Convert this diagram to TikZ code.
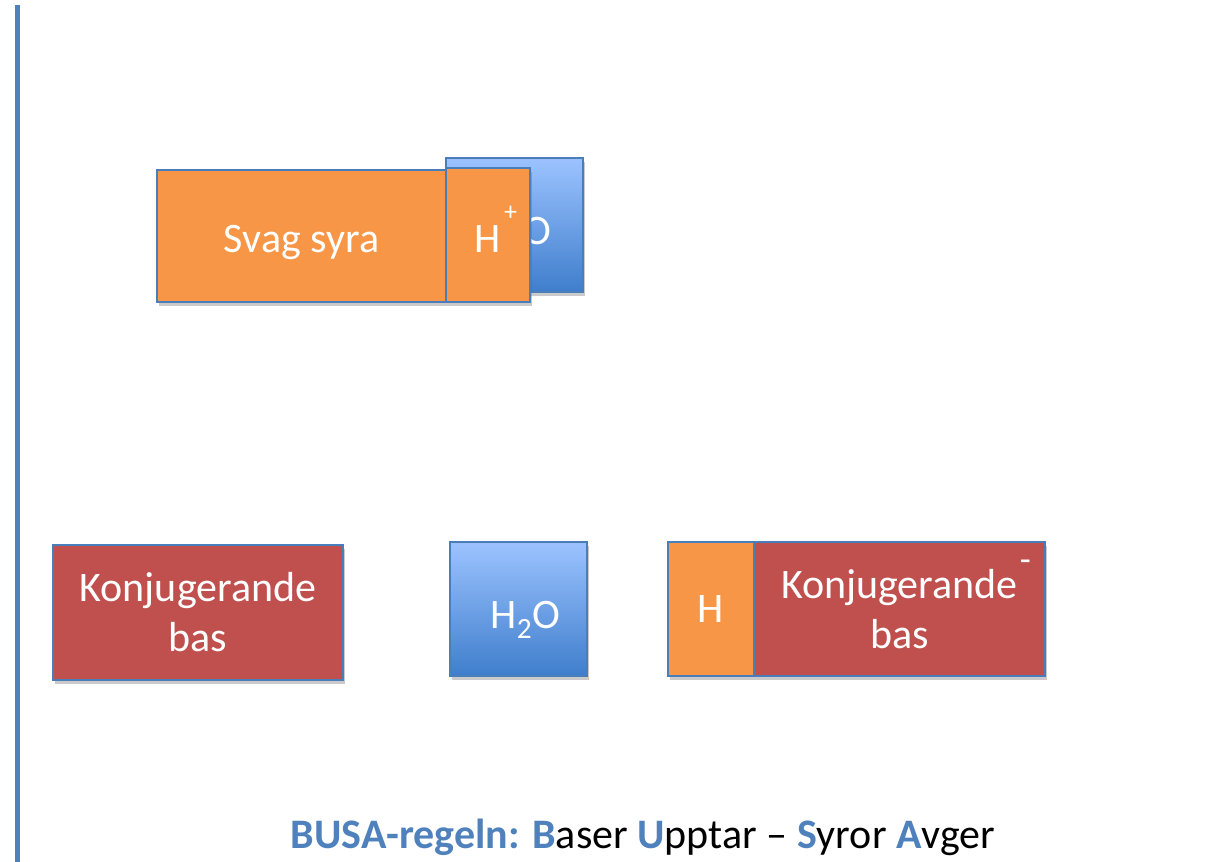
\documentclass[tikz,border=0pt]{standalone}
\usepackage{fontspec}
\setmainfont{Carlito}
\usetikzlibrary{shadows}
\definecolor{accblue}{HTML}{4F81BD}
\definecolor{edgeblue}{HTML}{4A7EBB}
\definecolor{acidorange}{HTML}{F79646}
\definecolor{basered}{HTML}{C0504D}
\definecolor{waterlight}{HTML}{9CC3FF}
\definecolor{waterdark}{HTML}{3F7ECC}
% shift a label down without changing the box size seen by the node
\newcommand{\lowered}[2]{\raisebox{-#1}[\height][\depth]{#2}}
\newcommand{\chargeup}[2]{\rlap{\hspace{3pt}\raisebox{#1}[0pt][0pt]{\fontsize{26}{26}\selectfont #2}}}
\tikzset{
  block/.style={rectangle, draw=edgeblue, line width=2pt, inner sep=0pt,
    text=white, align=center,
    font=\fontsize{42}{50}\selectfont,
    drop shadow={shadow xshift=2pt, shadow yshift=-4pt, opacity=0.35, fill=black!60}},
  acid/.style={block, fill=acidorange},
  base/.style={block, fill=basered},
  water/.style={block, top color=waterlight, bottom color=waterdark},
}
\begin{document}
\begin{tikzpicture}[x=1pt, y=-1pt]
  \useasboundingbox (0,0) rectangle (1205,862);
  % left rule
  \draw[accblue, line width=5pt] (17,5) -- (17,862);

  % top: weak acid giving its proton to water
  \node[water, minimum width=137pt, minimum height=134pt] (wtop) at (514.5,225) {\hspace{4pt}\lowered{11pt}{H\textsubscript{2}O}};
  \node[acid, minimum width=289pt, minimum height=132pt] (acid) at (301.5,236) {\lowered{6pt}{Svag syra}};
  \node[acid, minimum width=84pt, minimum height=134pt] (hplus) at (488,235) {\lowered{4pt}{H\chargeup{32pt}{+}}};

  % bottom: conjugate base, water, protonated base
  \node[base, minimum width=290pt, minimum height=135pt] (kbl) at (198,612.5) {Konjugerande\\bas};
  \node[water, minimum width=137pt, minimum height=134pt] (wbot) at (518.5,609) {\hspace{14pt}\lowered{11pt}{H\textsubscript{2}O}};
  \node[acid, minimum width=86pt, minimum height=134pt] (hsmall) at (711,609) {H};
  \node[base, minimum width=291pt, minimum height=134pt] (kbr) at (899.5,609) {Konjugerande\rlap{\hspace{2pt}\raisebox{27pt}[0pt][0pt]{\fontsize{36}{36}\selectfont -}}\\bas};

  % rule caption
  \node[anchor=base, font=\fontsize{42}{50}\selectfont, inner sep=0pt] (busa) at (643,848)
    {\textcolor{accblue}{\bfseries BUSA-regeln: B}aser \textcolor{accblue}{\bfseries U}pptar -- \textcolor{accblue}{\bfseries S}yror \textcolor{accblue}{\bfseries A}vger};
\end{tikzpicture}
\end{document}
